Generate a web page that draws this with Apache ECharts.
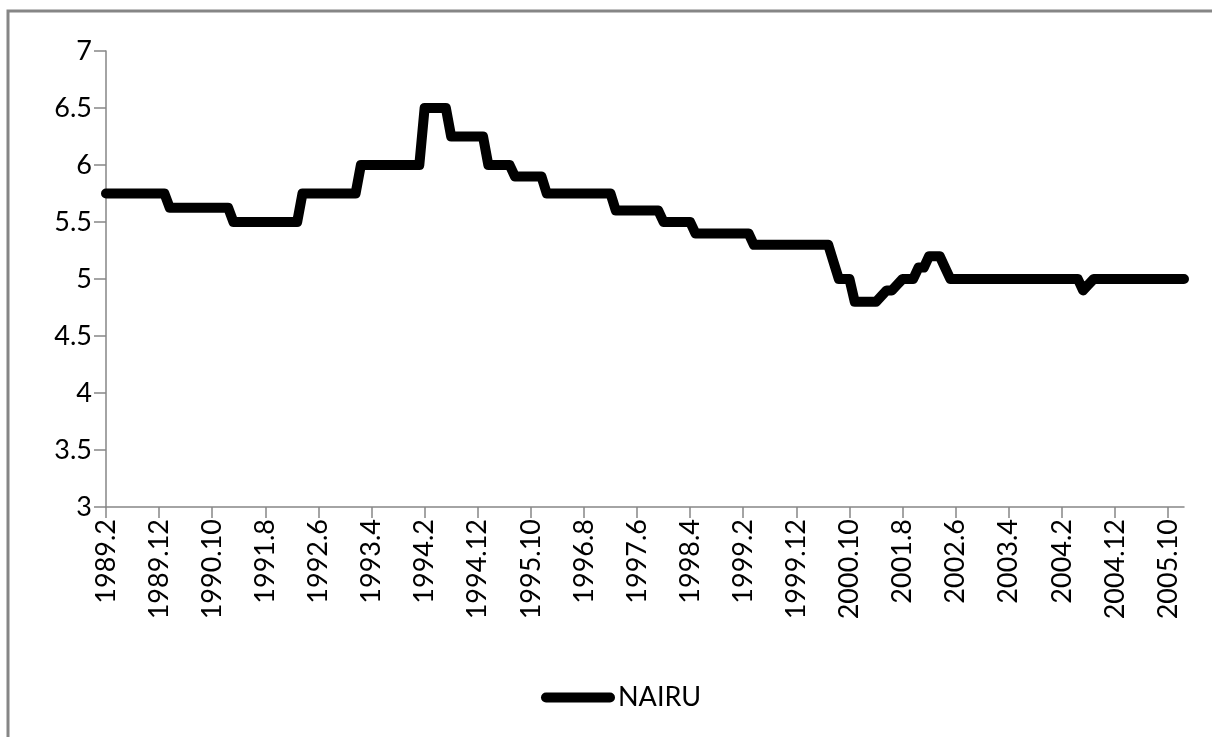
<!DOCTYPE html>
<html>
<head>
<meta charset="utf-8">
<script src="https://cdn.jsdelivr.net/npm/echarts@6/dist/echarts.min.js"></script>
<style>
  html, body { margin: 0; padding: 0; background: #fff; }
  #main { width: 1212px; height: 737px; }
</style>
</head>
<body>
<div id="main"></div>
<script>
// monthly categories 1989.2 .. 2006.1
var startYear = 1989
var startMonth = 2
var monthCount = 204
var months = []
for (var i = 0; i < monthCount; i++) {
  var k = startMonth - 1 + i
  months.push((startYear + Math.floor(k / 12)) + '.' + (k % 12 + 1))
}

// NAIRU, one value per month (rows of 10)
var nairu = [
  5.75, 5.75, 5.75, 5.75, 5.75, 5.75, 5.75, 5.75, 5.75, 5.75,
  5.75, 5.75, 5.625, 5.625, 5.625, 5.625, 5.625, 5.625, 5.625, 5.625,
  5.625, 5.625, 5.625, 5.625, 5.5, 5.5, 5.5, 5.5, 5.5, 5.5,
  5.5, 5.5, 5.5, 5.5, 5.5, 5.5, 5.5, 5.75, 5.75, 5.75,
  5.75, 5.75, 5.75, 5.75, 5.75, 5.75, 5.75, 5.75, 6, 6,
  6, 6, 6, 6, 6, 6, 6, 6, 6, 6,
  6.5, 6.5, 6.5, 6.5, 6.5, 6.25, 6.25, 6.25, 6.25, 6.25,
  6.25, 6.25, 6, 6, 6, 6, 6, 5.9, 5.9, 5.9,
  5.9, 5.9, 5.9, 5.75, 5.75, 5.75, 5.75, 5.75, 5.75, 5.75,
  5.75, 5.75, 5.75, 5.75, 5.75, 5.75, 5.6, 5.6, 5.6, 5.6,
  5.6, 5.6, 5.6, 5.6, 5.6, 5.5, 5.5, 5.5, 5.5, 5.5,
  5.5, 5.4, 5.4, 5.4, 5.4, 5.4, 5.4, 5.4, 5.4, 5.4,
  5.4, 5.4, 5.3, 5.3, 5.3, 5.3, 5.3, 5.3, 5.3, 5.3,
  5.3, 5.3, 5.3, 5.3, 5.3, 5.3, 5.3, 5.15, 5, 5,
  5, 4.8, 4.8, 4.8, 4.8, 4.8, 4.85, 4.9, 4.9, 4.95,
  5, 5, 5, 5.1, 5.1, 5.2, 5.2, 5.2, 5.1, 5,
  5, 5, 5, 5, 5, 5, 5, 5, 5, 5,
  5, 5, 5, 5, 5, 5, 5, 5, 5, 5,
  5, 5, 5, 5, 4.9, 4.95, 5, 5, 5, 5,
  5, 5, 5, 5, 5, 5, 5, 5, 5, 5,
  5, 5, 5, 5
]

var yMin = 3
var yMax = 7
var yStep = 0.5

var axisGray = '#868686'
var font = 'Lato, "Open Sans", sans-serif'

var myChart = echarts.init(document.getElementById('main'))
var option = {
  backgroundColor: '#fff',
  animation: false,
  // outer chart frame
  graphic: [
    {
      type: 'rect',
      shape: { x: 8, y: 11, width: 1400, height: 900 },
      style: { fill: 'none', stroke: axisGray, lineWidth: 3 },
      silent: true
    }
  ],
  legend: {
    data: ['NAIRU'],
    left: 536,
    top: 679,
    // thick line with round ends, like the series stroke
    icon: 'path://M5,0 L69,0 A5,5 0 0 1 69,10 L5,10 A5,5 0 0 1 5,0 Z',
    itemWidth: 74,
    itemHeight: 10,
    itemGap: 4,
    textStyle: { fontSize: 27, color: '#000', fontFamily: font, padding: [0, 0, 0, -2] }
  },
  grid: {
    left: 106,
    right: 28,
    top: 51,
    bottom: 230,
    outerBoundsMode: 'none'
  },
  xAxis: {
    type: 'category',
    boundaryGap: false,
    data: months,
    axisLine: { lineStyle: { color: axisGray, width: 1.5 } },
    axisTick: { interval: 9, length: 11, lineStyle: { color: axisGray, width: 1.5 } },
    axisLabel: {
      interval: 9,
      rotate: 90,
      margin: 12,
      fontSize: 27,
      color: '#000',
      fontFamily: font
    },
    splitLine: { show: false }
  },
  yAxis: {
    type: 'value',
    min: yMin,
    max: yMax,
    interval: yStep,
    axisLine: { show: true, lineStyle: { color: axisGray, width: 1.5 } },
    axisTick: { show: true, length: 12, lineStyle: { color: axisGray, width: 1.5 } },
    axisLabel: {
      margin: 14,
      fontSize: 27,
      color: '#000',
      fontFamily: font
    },
    splitLine: { show: false }
  },
  series: [
    {
      name: 'NAIRU',
      type: 'line',
      data: nairu,
      symbol: 'none',
      showSymbol: false,
      lineStyle: { color: '#000', width: 10, cap: 'round', join: 'round' },
      itemStyle: { color: '#000' }
    }
  ]
}
myChart.setOption(option)
</script>
</body>
</html>
